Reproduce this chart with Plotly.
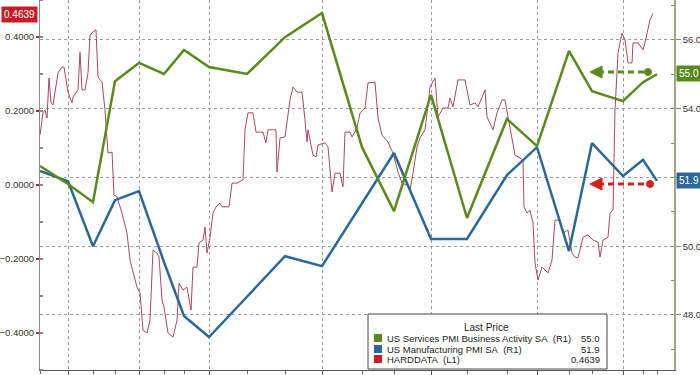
import plotly.graph_objects as go

# ---- data (x = session index along the time axis) ----
month_x = [0, 28, 53, 75, 99, 124, 144, 169, 207, 245, 282, 322, 354, 391, 427, 467, 497, 529, 552, 583, 603, 617]
quarter_x = [28, 99, 169, 282, 391, 497, 583]
services_pmi = [52.33, 51.81, 51.28, 54.80, 55.33, 55.01, 55.71, 55.21, 55.01, 56.08, 56.78, 52.88, 51.02,
                54.40, 50.82, 53.70, 52.91, 55.68, 54.51, 54.22, 54.77, 55.0]
manuf_pmi = [52.19, 51.89, 50.00, 51.34, 51.60, 49.54, 47.97, 47.36, 48.53, 49.71, 49.42, 51.25, 52.71,
             50.21, 50.21, 52.07, 52.88, 49.86, 53.00, 52.04, 52.51, 51.9]

hard_x = [0, 3, 5, 7, 9, 11, 13, 18, 22, 24, 28, 32, 33, 38, 40, 42, 45, 48, 50, 53, 56, 58, 62, 65, 68, 72,
          74, 77, 82, 87, 90, 97, 100, 103, 107, 110, 113, 117, 119, 122, 124, 128, 133, 137, 139, 143, 147,
          151, 153, 157, 159, 163, 165, 167, 170, 173, 176, 180, 182, 189, 192, 197, 203, 205, 208, 213, 216,
          223, 226, 228, 236, 237, 240, 245, 250, 253, 257, 262, 265, 267, 268, 273, 276, 278, 285, 288, 292,
          295, 300, 303, 305, 310, 312, 317, 320, 325, 328, 335, 338, 342, 348, 353, 358, 362, 367, 370, 373,
          377, 380, 385, 390, 395, 398, 403, 408, 410, 413, 418, 425, 430, 435, 438, 445, 447, 453, 457, 462,
          465, 468, 472, 475, 478, 483, 484, 487, 490, 493, 495, 498, 502, 505, 508, 512, 515, 520, 523, 528,
          532, 535, 538, 543, 548, 553, 558, 560, 563, 568, 570, 573, 575, 578, 582, 585, 588, 592, 593, 598,
          603, 605, 608, 610, 613]
hard_v = [0.135, 0.195, 0.203, 0.181, 0.289, 0.222, 0.216, 0.303, 0.319, 0.319, 0.251, 0.222, 0.238, 0.257,
          0.359, 0.257, 0.257, 0.303, 0.405, 0.414, 0.419, 0.292, 0.278, 0.203, 0.086, 0.089, -0.027, -0.032,
          -0.076, -0.130, -0.203, -0.276, -0.292, -0.392, -0.400, -0.365, -0.176, -0.184, -0.195, -0.311,
          -0.330, -0.400, -0.411, -0.365, -0.265, -0.284, -0.276, -0.338, -0.222, -0.222, -0.157, -0.149,
          -0.114, -0.184, -0.141, -0.076, -0.059, -0.049, -0.059, -0.059, 0.005, 0.005, 0.014, 0.149, 0.195,
          0.195, 0.143, 0.143, 0.114, 0.149, 0.149, 0.035, 0.127, 0.130, 0.230, 0.265, 0.251, 0.251, 0.176,
          0.116, 0.149, 0.081, 0.076, 0.108, 0.114, 0.103, -0.019, 0.032, 0.032, -0.005, 0.143, 0.143, 0.130,
          0.154, 0.195, 0.208, 0.276, 0.278, 0.181, 0.135, 0.116, 0.086, 0.035, 0.005, 0.000, -0.014, 0.032,
          0.103, 0.127, 0.149, 0.265, 0.289, 0.184, 0.208, 0.208, 0.235, 0.211, 0.284, 0.284, 0.216, 0.222,
          0.211, 0.257, 0.184, 0.149, 0.195, 0.230, 0.230, 0.184, 0.130, 0.081, 0.076, 0.068, -0.059, -0.076,
          -0.068, -0.103, -0.211, -0.257, -0.222, -0.230, -0.238, -0.203, -0.095, -0.095, -0.130, -0.122,
          -0.184, -0.195, -0.197, -0.141, -0.135, -0.149, -0.154, -0.195, -0.149, -0.141, -0.076, -0.068,
          0.203, 0.357, 0.411, 0.392, 0.330, 0.330, 0.384, 0.384, 0.365, 0.386, 0.427, 0.446, 0.4639]

left_ticks = [-0.4, -0.2, 0.0, 0.2, 0.4]
right_ticks = [48, 50, 52, 54, 56]
right_tick_text = ["48.0", "50.0", "", "54.0", "56.0"]  # 52.0 is hidden behind the 51.9 badge

GREEN = "rgb(88,138,28)"
BLUE = "rgb(42,104,152)"
RED_LINE = "rgb(170,72,92)"
RED = "rgb(200,28,40)"
FONT = "Liberation Sans, Arial, sans-serif"
LEG_FONT = "Liberation Sans Narrow, Arial Narrow, Liberation Sans, sans-serif"

fig = go.Figure()
fig.add_trace(go.Scatter(x=hard_x, y=hard_v, mode="lines", line=dict(color=RED_LINE, width=1),
                         yaxis="y", showlegend=False, hoverinfo="skip"))
fig.add_trace(go.Scatter(x=month_x, y=manuf_pmi, mode="lines", line=dict(color=BLUE, width=2.5),
                         yaxis="y2", showlegend=False))
fig.add_trace(go.Scatter(x=month_x, y=services_pmi, mode="lines", line=dict(color=GREEN, width=2.5),
                         yaxis="y2", showlegend=False))

fig.update_layout(
    width=700, height=375,
    margin=dict(l=40, r=26, t=0, b=5, autoexpand=False),
    paper_bgcolor="white", plot_bgcolor="white",
    font=dict(family=FONT, size=10, color="#333"),
    showlegend=False,
    xaxis=dict(range=[0, 634], showline=True, linecolor="#555", linewidth=1,
               tickmode="array", tickvals=quarter_x, ticks="outside", ticklen=4, tickcolor="#555",
               showticklabels=False, showgrid=True, gridcolor="#9a9a9a", griddash="dot", gridwidth=1,
               zeroline=False, automargin=False,
               minor=dict(tickmode="array", tickvals=month_x, ticks="outside", ticklen=3, tickcolor="#666",
                          showgrid=False)),
    yaxis=dict(range=[-0.5, 0.5], tickmode="array", tickvals=left_ticks, tickformat=".4f",
               ticks="outside", ticklen=3, tickwidth=2, tickcolor=RED, showgrid=False, zeroline=False,
               showline=True, linecolor="#8a8a8a", linewidth=1, automargin=False,
               minor=dict(dtick=0.1, ticks="inside", ticklen=3, tickcolor="#888", showgrid=False),
               tickfont=dict(size=9.5, color="#333")),
    yaxis2=dict(range=[46.4, 57.16], overlaying="y", side="right", tickmode="array", tickvals=right_ticks,
                ticktext=right_tick_text, ticks="outside", ticklen=5, tickcolor="#8a8a60", showgrid=True,
                gridcolor="#9a9a9a", griddash="dot", gridwidth=1, zeroline=False, showline=True,
                linecolor="#a6a67a", linewidth=1.5, automargin=False,
                minor=dict(dtick=1, ticks="inside", ticklen=3, tickcolor="#8a8a60", showgrid=False),
                tickfont=dict(size=9.5, color="#333")),
)

def py(p):
    return 1 - p / 370.0

def px(p):
    return (p - 40) / 634.0

shapes = []
# dashed arrows
for yy, col, xend in [(72, GREEN, 648), (184, "rgb(215,30,30)", 650)]:
    shapes.append(dict(type="line", xref="paper", yref="paper", x0=px(598), x1=px(xend - 3), y0=py(yy), y1=py(yy),
                       line=dict(color=col, width=3, dash="6px,4px")))
    shapes.append(dict(type="path", xref="paper", yref="paper", xsizemode="pixel", ysizemode="pixel",
                       xanchor=px(590), yanchor=py(yy), path="M0,0 L12,6 L12,-6 Z",
                       fillcolor=col, line=dict(color=col, width=1)))
    shapes.append(dict(type="circle", xref="paper", yref="paper", xsizemode="pixel", ysizemode="pixel",
                       xanchor=px(xend), yanchor=py(yy), x0=-3.5, x1=3.5, y0=-3.5, y1=3.5,
                       fillcolor=col, line=dict(color=col, width=1)))
# legend box
shapes.append(dict(type="rect", xref="paper", yref="paper", x0=px(368), x1=px(607), y0=py(369), y1=py(314),
                   fillcolor="white", line=dict(color="#444", width=1), layer="above"))
legend_rows = [("US Services PMI Business Activity SA\u00a0\u00a0(R1)", "55.0", GREEN),
               ("US Manufacturing PMI SA\u00a0\u00a0(R1)", "51.9", BLUE),
               ("HARDDATA\u00a0\u00a0(L1)", "0.4639", RED)]
row_y = [338, 349, 359]
annotations = [dict(text="Last Price", x=px(487), y=py(327), xref="paper", yref="paper", showarrow=False,
                    xanchor="center", yanchor="middle", font=dict(family=LEG_FONT, size=10, color="#222"))]
for (label, val, col), yy in zip(legend_rows, row_y):
    shapes.append(dict(type="rect", xref="paper", yref="paper", x0=px(374), x1=px(382), y0=py(yy + 4),
                       y1=py(yy - 4), fillcolor=col, line=dict(width=0), layer="above"))
    annotations.append(dict(text=label, x=px(385), y=py(yy), xref="paper", yref="paper", showarrow=False,
                            xanchor="left", yanchor="middle", font=dict(family=LEG_FONT, size=9.5, color="#222")))
    annotations.append(dict(text=val, x=px(602), y=py(yy), xref="paper", yref="paper", showarrow=False,
                            xanchor="right", yanchor="middle", font=dict(family=LEG_FONT, size=9.5, color="#222")))

# value badges
annotations.append(dict(text="0.4639", x=0, y=py(14), xref="paper", yref="paper", showarrow=False,
                        xanchor="right", yanchor="middle", xshift=-2, bgcolor=RED, borderpad=2,
                        font=dict(family=FONT, size=10, color="white")))
annotations.append(dict(text="55.0", x=1, y=py(74), xref="paper", yref="paper", showarrow=False,
                        xanchor="left", yanchor="middle", xshift=2, bgcolor=GREEN, borderpad=2,
                        font=dict(family=FONT, size=10, color="white")))
annotations.append(dict(text="51.9", x=1, y=py(180), xref="paper", yref="paper", showarrow=False,
                        xanchor="left", yanchor="middle", xshift=2, bgcolor=BLUE, borderpad=2,
                        font=dict(family=FONT, size=10, color="white")))

fig.update_layout(shapes=shapes, annotations=annotations)
fig.write_html("out.html", config={"displayModeBar": False},
               post_script="document.body.style.margin='0';document.body.style.padding='0';")
